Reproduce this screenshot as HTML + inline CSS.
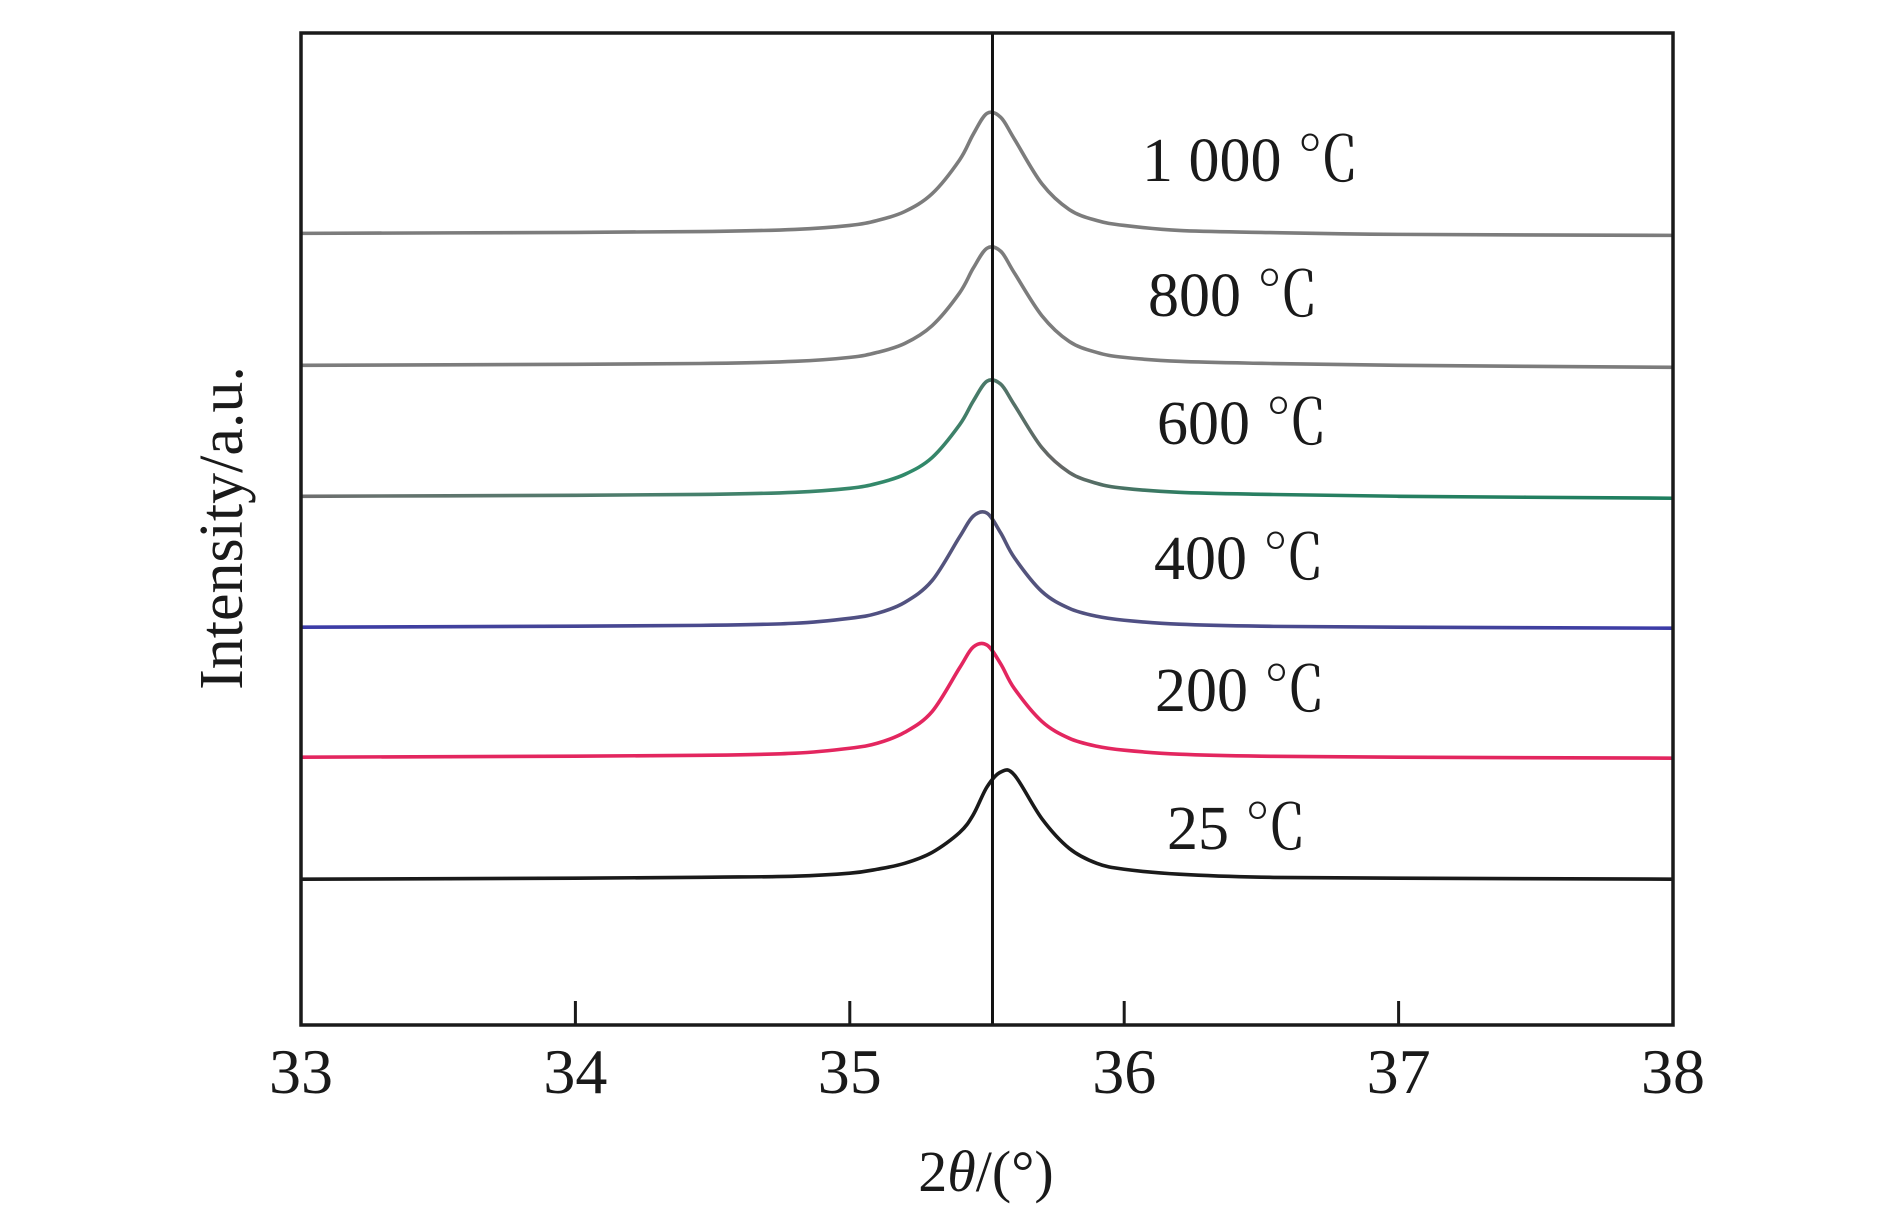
<!DOCTYPE html>
<html><head><meta charset="utf-8"><style>
html,body{margin:0;padding:0;background:#fff;}
svg{display:block;font-family:"Liberation Serif","Noto Serif CJK SC",serif;}
</style></head><body>
<svg id="chart" width="1890" height="1212" viewBox="0 0 1890 1212" xmlns="http://www.w3.org/2000/svg" style="position:absolute;left:0;top:0;">
<defs>
<linearGradient id="g600" x1="0" x2="1" y1="0" y2="0"><stop offset="0" stop-color="#6e6e6e"/><stop offset="0.45" stop-color="#2f8a6a"/><stop offset="0.55" stop-color="#666"/><stop offset="0.65" stop-color="#2a7f62"/><stop offset="1" stop-color="#1f7f5f"/></linearGradient>
<linearGradient id="g400" x1="0" x2="1" y1="0" y2="0"><stop offset="0" stop-color="#3b3ba8"/><stop offset="0.5" stop-color="#55557a"/><stop offset="1" stop-color="#3b3ba8"/></linearGradient>
</defs>
<g id="series"></g>
<g id="axes"></g>
<text x="986" y="1191" font-size="58" text-anchor="middle" fill="#1a1a1a">2<tspan font-style="italic">θ</tspan>/(°)</text>
<text x="0" y="0" font-size="62" text-anchor="middle" fill="#1a1a1a" transform="translate(242,528) rotate(-90)">Intensity/a.u.</text>
</svg>
<script>
const xs = [33,34,34.5,34.8,35,35.1,35.2,35.3,35.4,35.45,35.5,35.55,35.6,35.7,35.8,35.9,36,36.2,36.5,37,38];
const s1000 = [798,799,800,802,806,811,820,838,872,898,919,915,893,848,822,811,806,801,799,797,796];
const s800 = [665,666,667,669,673,678,687,705,738,763,783,780,758,715,689,678,673,669,667,665,663];
const s600 = [533,534,535,537,541,546,555,572,605,629,649,646,625,582,557,546,541,537,535,533,531];
const s400 = [401,402,403,405,410,415,426,448,492,513,516,496,471,437,420,412,408,404,402,401,400];
const s200 = [270,271,272,274,279,284,295,316,360,381,383,364,339,306,289,281,277,273,271,270,269];
const s25 = [147,148,149,150,153,157,163,174,194,212,240,255,252,208,178,163,157,152,149,148,147];
const xTicks = [33,34,35,36,37,38];
const seriesLabels = ["1 000 ℃","800 ℃","600 ℃","400 ℃","200 ℃","25 ℃"];
const refLine = 35.52;

const L=301,R=1673,T=33,B=1025;
const X=v=>L+(v-33)/(38-33)*(R-L);
const Y=v=>B-v/1000*(B-T);
const NS="http://www.w3.org/2000/svg";
function mk(tag,attrs,parent){const e=document.createElementNS(NS,tag);for(const k in attrs)e.setAttribute(k,attrs[k]);parent.appendChild(e);return e;}
function pathFor(vals){
  const p=xs.map((x,i)=>[X(x),Y(vals[i])]);
  let d="M"+p[0][0]+","+p[0][1];
  for(let i=0;i<p.length-1;i++){
    const p0=p[i-1]||p[i],p1=p[i],p2=p[i+1],p3=p[i+2]||p2;
    const c1=[p1[0]+(p2[0]-p0[0])/6,p1[1]+(p2[1]-p0[1])/6];
    const c2=[p2[0]-(p3[0]-p1[0])/6,p2[1]-(p3[1]-p1[1])/6];
    d+=" C"+c1+" "+c2+" "+p2;
  }
  return d;
}
const sg=document.getElementById('series');
const ag=document.getElementById('axes');
const all=[s1000,s800,s600,s400,s200,s25];
const cols=["#7c7c7c","#7c7c7c","url(#g600)","url(#g400)","#e3265f","#1a1a1a"];
const names=["line-1000c","line-800c","line-600c","line-400c","line-200c","line-25c"];
all.forEach((s,i)=>{
  const p=mk('path',{d:pathFor(s),fill:"none",stroke:cols[i],"stroke-width":3.6,"stroke-linejoin":"round"},sg);
  
  
});
const labPos=[[1142,181],[1148,316],[1157,444],[1154,579],[1155,711],[1167,849]];
seriesLabels.forEach((t,i)=>{
  const e=mk('text',{x:labPos[i][0],y:labPos[i][1],"font-size":62,fill:"#1a1a1a"},ag);
  e.textContent=t;
  
  
});
const rl=mk('line',{x1:X(refLine),x2:X(refLine),y1:T,y2:B,stroke:"#111","stroke-width":3},ag);


const fr=mk('rect',{x:L,y:T,width:R-L,height:B-T,fill:"none",stroke:"#1a1a1a","stroke-width":3.5},ag);


xTicks.forEach(v=>{
  const tk=mk('line',{x1:X(v),x2:X(v),y1:B,y2:B-24,stroke:"#1a1a1a","stroke-width":3},ag);
  
  
  const tl=mk('text',{x:X(v),y:1093,"font-size":64,"text-anchor":"middle",fill:"#1a1a1a"},ag);
  tl.textContent=String(v);
  
  
});
</script>
</body></html>
